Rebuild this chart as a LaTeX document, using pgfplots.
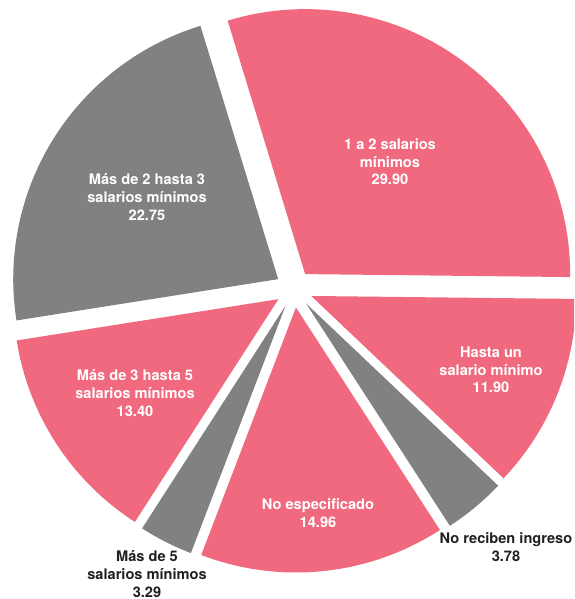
\documentclass[border=0pt]{standalone}
\usepackage{pgfplots}
\usepackage{pgfplotstable}
\pgfplotsset{compat=1.18}
\usepackage{fontspec}
\setmainfont{TeX Gyre Heros}
\definecolor{pieRed}{HTML}{F0697E}
\definecolor{pieGray}{HTML}{7F8280}
\definecolor{labDark}{HTML}{231F20}

\pgfplotstableread[col sep=comma]{
value,color
29.90,pieRed
11.90,pieRed
3.78,pieGray
14.96,pieRed
3.29,pieGray
13.40,pieRed
22.75,pieGray
}\piedata

\begin{document}
\begin{tikzpicture}
\begin{axis}[scale only axis, width=574pt, height=599pt,
  xmin=0, xmax=574, ymin=0, ymax=599, hide axis, clip mode=individual]
\path (rel axis cs:0,0) rectangle (rel axis cs:1,1);
\def\cum{0}
\pgfplotsforeachungrouped \i in {0,...,6}{%
 \pgfplotstablegetelem{\i}{value}\of\piedata \let\sliceV\pgfplotsretval
 \pgfplotstablegetelem{\i}{color}\of\piedata \let\sliceC\pgfplotsretval
 \pgfmathsetmacro\sliceA{107-\cum*3.6}%
 \pgfmathsetmacro\sliceB{107-(\cum+\sliceV)*3.6}%
 \pgfmathsetmacro\sliceM{(\sliceA+\sliceB)/2}%
 \pgfmathsetmacro\sliceX{294+18.6*cos(\sliceM)}%
 \pgfmathsetmacro\sliceY{310+18.6*sin(\sliceM)}%
 \edef\doslice{\noexpand\addplot[fill=\sliceC, draw=none, domain=\sliceB:\sliceA, samples=90] ({\sliceX+265*cos(x)},{\sliceY+265*sin(x)}) -- (\sliceX,\sliceY) -- cycle;}%
 \doslice
 \pgfmathsetmacro\cum{\cum+\sliceV}%
}
\tikzset{lab/.style={align=center, inner sep=0pt, font=\fontsize{14.6}{17.6}\selectfont\bfseries}}
\node[lab, white] at (390,437) {1 a 2 salarios\\mínimos\\29.90};
\node[lab, white] at (147,402) {Más de 2 hasta 3\\salarios mínimos\\22.75};
\node[lab, white] at (491,229) {Hasta un\\salario mínimo\\11.90};
\node[lab, white] at (135,206) {Más de 3 hasta 5\\salarios mínimos\\13.40};
\node[lab, white] at (318,86) {No especificado\\14.96};
\node[lab, labDark] at (147,25) {Más de 5\\salarios mínimos\\3.29};
\node[lab, labDark] at (506,52) {No reciben ingreso\\3.78};
\end{axis}
\end{tikzpicture}
\end{document}
